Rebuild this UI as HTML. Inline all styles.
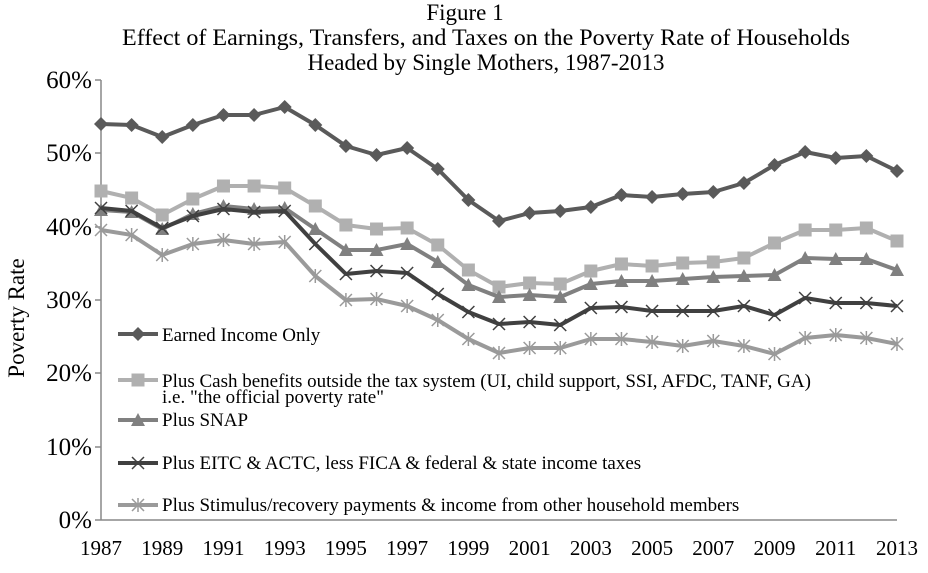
<!DOCTYPE html>
<html><head><meta charset="utf-8"><style>body{margin:0;background:#fff}</style></head><body>
<svg width="928" height="568" xmlns="http://www.w3.org/2000/svg" font-family="Liberation Serif, serif">
<g font-size="23" text-anchor="middle" fill="#000">
<text x="465" y="20">Figure 1</text>
<text x="486" y="45" textLength="728" lengthAdjust="spacingAndGlyphs">Effect of Earnings, Transfers, and Taxes on the Poverty Rate of Households</text>
<text x="486" y="70">Headed by Single Mothers, 1987-2013</text>
</g>
<g stroke="#888" stroke-width="1.5">
<line x1="101" y1="80" x2="101" y2="520"/><line x1="101" y1="520" x2="897" y2="520"/>
<line x1="95" y1="80" x2="101" y2="80"/><line x1="95" y1="153" x2="101" y2="153"/><line x1="95" y1="227" x2="101" y2="227"/><line x1="95" y1="300" x2="101" y2="300"/><line x1="95" y1="373" x2="101" y2="373"/><line x1="95" y1="447" x2="101" y2="447"/><line x1="95" y1="520" x2="101" y2="520"/>
</g>
<g font-size="25" text-anchor="end">
<text x="92" y="88">60%</text><text x="92" y="161">50%</text><text x="92" y="235">40%</text><text x="92" y="308">30%</text><text x="92" y="381">20%</text><text x="92" y="455">10%</text><text x="92" y="528">0%</text>
</g>
<text transform="translate(24,318) rotate(-90)" font-size="23" text-anchor="middle">Poverty Rate</text>
<g font-size="21" text-anchor="middle" id="xl"></g>
<g id="plot"></g>
<g font-size="19">
<text x="162" y="341">Earned Income Only</text>
<text x="162" y="387">Plus Cash benefits outside the tax system (UI, child support, SSI, AFDC, TANF, GA)</text>
<text x="162" y="403">i.e. "the official poverty rate"</text>
<text x="162" y="426">Plus SNAP</text>
<text x="162" y="469">Plus EITC &amp; ACTC, less FICA &amp; federal &amp; state income taxes</text>
<text x="162" y="511">Plus Stimulus/recovery payments &amp; income from other household members</text>
</g>
<script>
const NS="http://www.w3.org/2000/svg";
const xl=document.getElementById('xl');
for(let i=0;i<=26;i+=2){const t=document.createElementNS(NS,'text');t.setAttribute('x',101+i*30.615);t.setAttribute('y',555);t.textContent=1987+i;xl.appendChild(t);}
const S=[
{c:"#5a5a5a",m:"d",y:[124,125,137,125,115,115,107,125,146,155,148,169,200,221,213,211,207,195,197,194,192,183,165,152,158,156,171],ly:334},
{c:"#b0b0b0",m:"s",y:[191,198,215,199,186,186,188,206,225,229,228,245,270,287,283,284,271,264,266,263,262,258,243,230,230,228,241],ly:380},
{c:"#808080",m:"t",y:[210,212,229,214,206,209,208,229,250,250,244,262,285,297,295,297,284,281,281,279,277,276,275,258,259,259,270],ly:420},
{c:"#404040",m:"x",y:[208,211,228,216,209,212,211,244,274,271,273,294,312,324,322,325,308,307,311,311,311,306,315,298,303,303,306],ly:463},
{c:"#9a9a9a",m:"a",y:[230,235,255,244,240,244,242,276,300,299,306,320,339,353,348,348,339,339,342,346,341,346,354,338,335,338,344],ly:505}];
const g=document.getElementById('plot');
function el(n,a){const e=document.createElementNS(NS,n);for(const k in a)e.setAttribute(k,a[k]);g.appendChild(e);return e;}
function mk(m,x,y,c){
 if(m=="d")el('polygon',{points:`${x},${y-7} ${x+7},${y} ${x},${y+7} ${x-7},${y}`,fill:c});
 else if(m=="s")el('rect',{x:x-6.5,y:y-6.5,width:13,height:13,fill:c});
 else if(m=="t")el('polygon',{points:`${x},${y-7} ${x+7},${y+6} ${x-7},${y+6}`,fill:c});
 else if(m=="x"){el('path',{d:`M${x-6} ${y-6}L${x+6} ${y+6}M${x-6} ${y+6}L${x+6} ${y-6}`,stroke:c,'stroke-width':1.5});}
 else {el('path',{d:`M${x-6} ${y-6}L${x+6} ${y+6}M${x-6} ${y+6}L${x+6} ${y-6}M${x} ${y-7}L${x} ${y+7}`,stroke:c,'stroke-width':1.5});}
}
for(const s of S){
 const pts=s.y.map((v,i)=>[101+i*30.615,v]);
 el('polyline',{points:pts.map(p=>p.join(',')).join(' '),fill:'none',stroke:s.c,'stroke-width':4,'stroke-linejoin':'round'});
 pts.forEach(p=>mk(s.m,p[0],p[1],s.c));
 el('line',{x1:118,y1:s.ly,x2:158,y2:s.ly,stroke:s.c,'stroke-width':4});
 mk(s.m,138,s.ly,s.c);
}
</script>
</svg>
</body></html>
